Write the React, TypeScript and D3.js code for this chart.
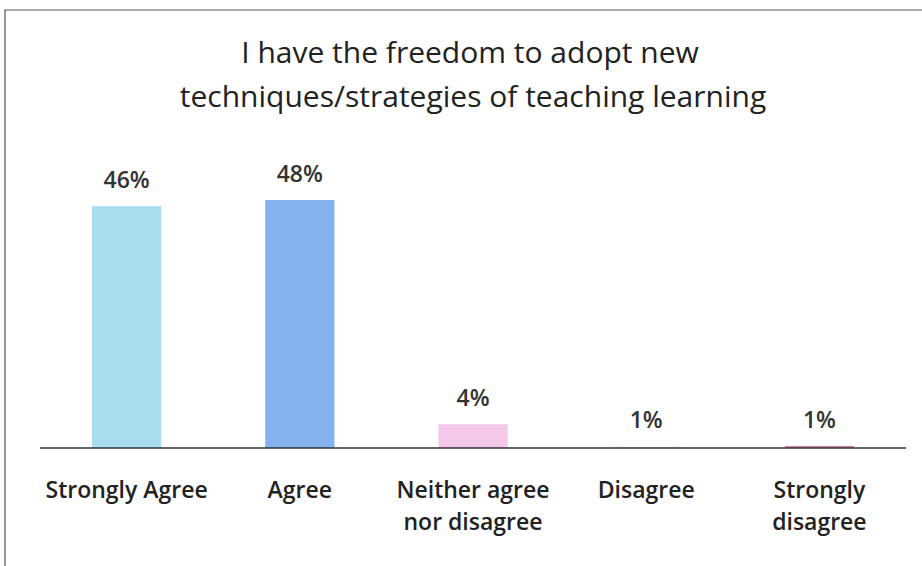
import { useEffect, useRef } from "react";
import { select, scaleBand, scaleLinear } from "d3";

const titleLines = [
  "I have the freedom to adopt new",
  "techniques/strategies of teaching learning",
];
const categories = [
  ["Strongly Agree"],
  ["Agree"],
  ["Neither agree", "nor disagree"],
  ["Disagree"],
  ["Strongly", "disagree"],
];
const barValues = [46.8, 48, 4.6, 0.3, 0.4];
const valueLabels = ["46%", "48%", "4%", "1%", "1%"];
const barColors = ["#aadcf0", "#83b2ee", "#f3c8e8", "#f7f4ec", "#d0879e"];

const W = 922;
const H = 566;
const FONT = "'Open Sans', Lato, sans-serif";

export default function App() {
  const svgRef = useRef<SVGSVGElement>(null);

  useEffect(() => {
    const svg = select(svgRef.current);
    svg.selectAll("*").remove();

    const baseY = 448;
    const x = scaleBand<number>()
      .domain(categories.map((_, i) => i))
      .range([40, 906])
      .paddingInner(0.6)
      .paddingOuter(0.3);
    const y = scaleLinear().domain([0, 48]).range([baseY, 200]);

    svg.append("rect").attr("width", W).attr("height", H).attr("fill", "#fff");

    // frame (scanned page edge)
    svg
      .append("path")
      .attr("d", `M5,${H} L5,10 L${W},10`)
      .attr("fill", "none")
      .attr("stroke", "#555")
      .attr("stroke-width", 1.2);

    // --- Title ---
    svg
      .append("g")
      .selectAll("text")
      .data(titleLines)
      .join("text")
      .attr("x", (_, i) => (i === 0 ? 470 : 473))
      .attr("y", (_, i) => 63 + i * 44)
      .attr("text-anchor", "middle")
      .attr("font-family", FONT)
      .attr("font-weight", 500)
      .attr("font-size", 30)
      .attr("fill", "#222")
      .text((d) => d);

    // --- Bars ---
    svg
      .append("g")
      .selectAll("rect")
      .data(barValues)
      .join("rect")
      .attr("x", (_, i) => x(i)!)
      .attr("width", x.bandwidth())
      .attr("y", (d) => y(d))
      .attr("height", (d) => baseY - y(d))
      .attr("fill", (_, i) => barColors[i]);

    // --- Baseline ---
    svg
      .append("line")
      .attr("x1", 40)
      .attr("x2", 906)
      .attr("y1", baseY)
      .attr("y2", baseY)
      .attr("stroke", "#333")
      .attr("stroke-width", 1.5);

    // --- Value labels ---
    svg
      .append("g")
      .selectAll("text")
      .data(barValues)
      .join("text")
      .attr("x", (_, i) => x(i)! + x.bandwidth() / 2)
      .attr("y", (d) => Math.min(y(d), 447) - 18)
      .attr("text-anchor", "middle")
      .attr("font-family", FONT)
      .attr("font-weight", 600)
      .attr("font-size", 23)
      .attr("fill", "#333")
      .text((_, i) => valueLabels[i]);

    // --- Category labels ---
    const cat = svg
      .append("g")
      .selectAll("text")
      .data(categories)
      .join("text")
      .attr("x", (_, i) => x(i)! + x.bandwidth() / 2)
      .attr("y", 498)
      .attr("text-anchor", "middle")
      .attr("font-family", FONT)
      .attr("font-weight", 600)
      .attr("font-size", 23)
      .attr("fill", "#222");
    cat
      .selectAll("tspan")
      .data((d) => d)
      .join("tspan")
      .attr("x", function () {
        return select(this.parentNode as SVGTextElement).attr("x");
      })
      .attr("dy", (_, j) => (j === 0 ? 0 : 32))
      .text((d) => d);
  }, []);

  return (
    <svg
      ref={svgRef}
      width={W}
      height={H}
      style={{ position: "absolute", left: 0, top: 0, display: "block" }}
    />
  );
}
